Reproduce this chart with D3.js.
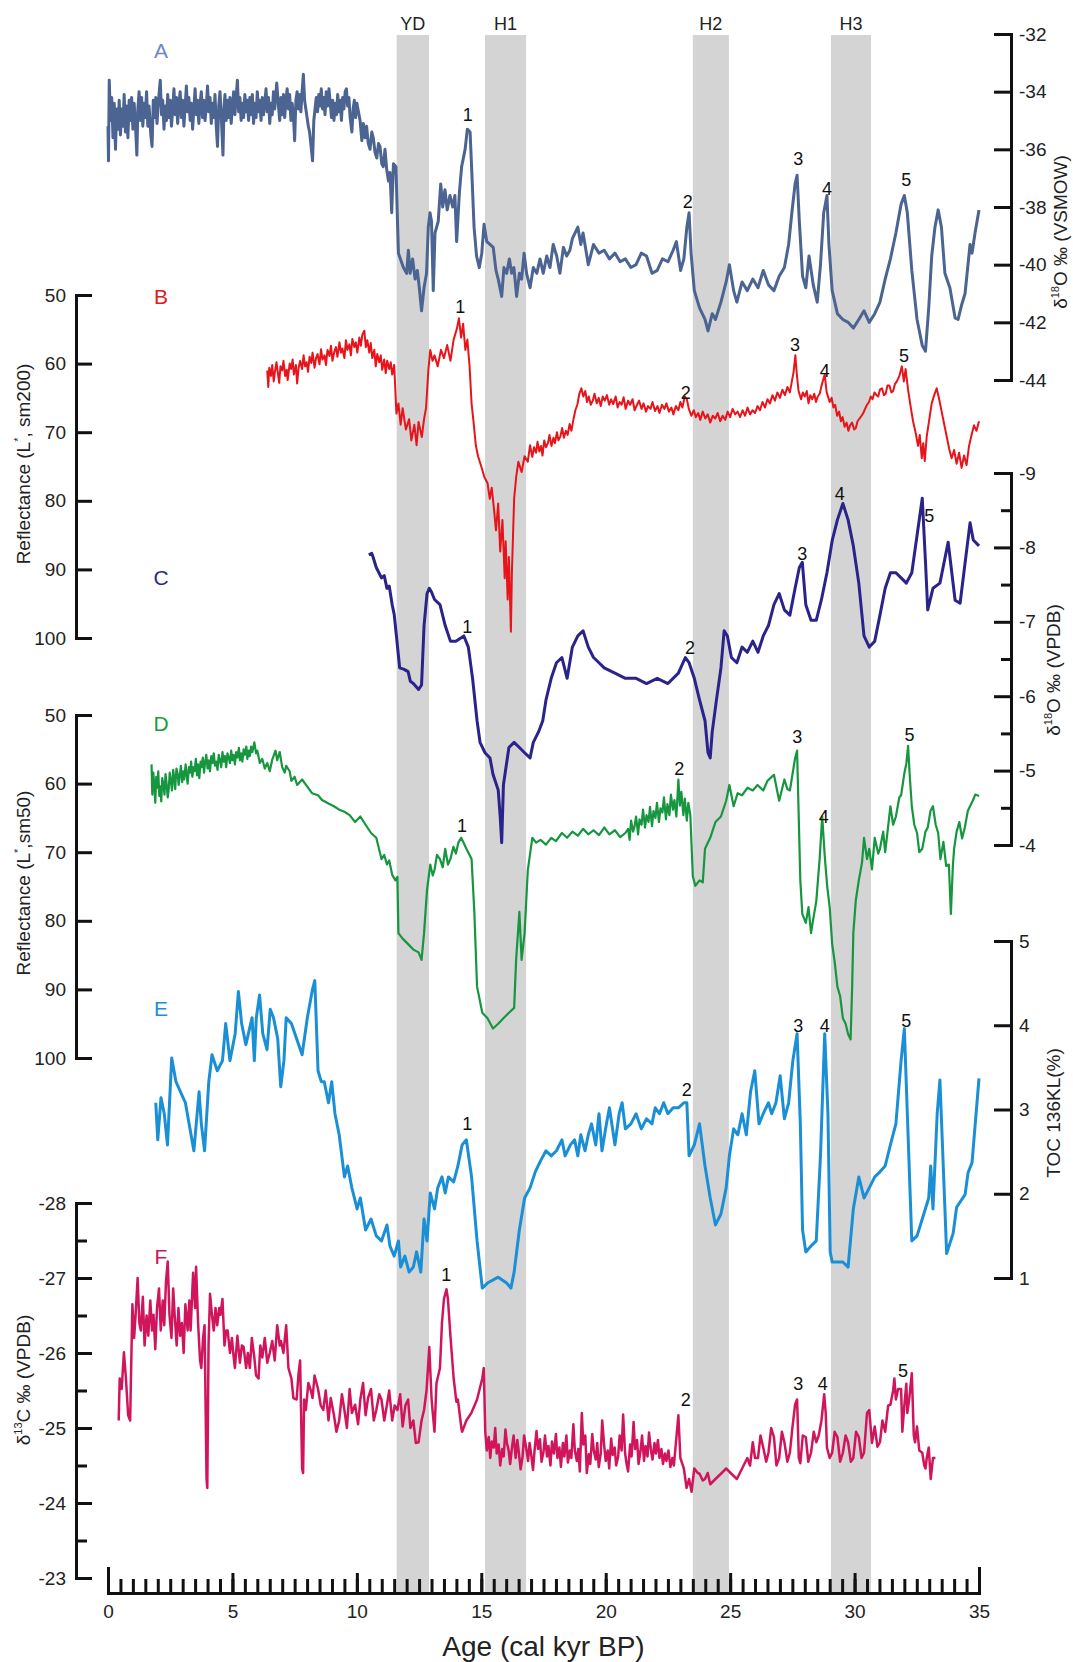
<!DOCTYPE html>
<html>
  <head>
    <meta charset='utf-8'>
    <script src='https://d3js.org/d3.v7.min.js'></script>
    <title>Stacked records</title>
  </head>
  <body>
    <style>
body {
  margin: 0;
  background: #fff;
  font-family: 'Liberation Sans', Arial, sans-serif;
}
.axis path, .axis line {
  stroke: #111;
  stroke-width: 3;
  fill: none;
}
.axis text {
  font-family: 'Liberation Sans', Arial, sans-serif;
  font-size: 19px;
  fill: #222;
}
.title {
  font-size: 19px;
  fill: #222;
}
.series {
  fill: none;
  stroke-linejoin: round;
}
    </style>
    <div id='chart'></div>
    <script>
// bands (kyr BP)
const bandNames = ['YD', 'H1', 'H2', 'H3'];
const bandStart = [11.6, 15.15, 23.5, 29.05];
const bandEnd = [12.9, 16.8, 24.95, 30.66];

const xTicks = [0, 5, 10, 15, 20, 25, 30, 35];
const ticksA = [-32, -34, -36, -38, -40, -42, -44];
const ticksB = [50, 60, 70, 80, 90, 100];
const ticksC = [-9, -8, -7, -6, -5, -4];
const minorC = [-8.5, -7.5, -6.5, -5.5, -4.5];
const ticksD = [50, 60, 70, 80, 90, 100];
const ticksE = [5, 4, 3, 2, 1];
const ticksF = [-28, -27, -26, -25, -24, -23];
const minorF = [-27.5, -26.5, -25.5, -24.5, -23.5];

// A: d18O VSMOW  [age, value]
const recA = [
[0.00,-35.2],[0.02,-36.4],[0.05,-33.6],[0.1,-35.0],[0.15,-34.2],[0.2,-35.6],[0.25,-34.4],[0.3,-36.0],[0.35,-34.6],[0.4,-35.3],[0.45,-34.3],[0.5,-35.5],[0.55,-34.6],[0.6,-35.2],[0.65,-34.1],[0.7,-35.4],[0.75,-34.5],[0.8,-35.6],[0.85,-34.3],[0.9,-35.0],[0.95,-34.2],[1.0,-35.3],[1.05,-34.4],[1.1,-35.1],[1.16,-36.2],[1.2,-34.6],[1.25,-34.0],[1.3,-35.0],[1.35,-34.2],[1.4,-35.2],[1.45,-34.4],[1.5,-34.9],[1.55,-34.0],[1.6,-35.2],[1.65,-34.5],[1.72,-35.5],[1.77,-35.9],[1.82,-34.3],[1.87,-34.9],[1.92,-34.2],[1.97,-35.1],[2.02,-34.4],[2.07,-33.9],[2.1,-33.6],[2.15,-34.8],[2.2,-34.3],[2.25,-35.3],[2.3,-34.5],[2.35,-35.0],[2.4,-34.1],[2.45,-34.9],[2.5,-34.3],[2.55,-35.2],[2.6,-34.6],[2.65,-33.9],[2.7,-34.8],[2.75,-34.2],[2.8,-35.1],[2.85,-34.4],[2.9,-34.0],[2.95,-34.9],[3.0,-34.3],[3.05,-35.2],[3.1,-34.5],[3.15,-33.8],[3.2,-34.7],[3.25,-34.2],[3.3,-35.0],[3.35,-34.4],[3.4,-35.3],[3.45,-34.6],[3.5,-33.9],[3.55,-34.8],[3.6,-34.3],[3.65,-35.1],[3.7,-34.4],[3.75,-34.0],[3.8,-34.9],[3.85,-34.3],[3.9,-35.0],[3.95,-34.5],[4.0,-33.8],[4.05,-34.7],[4.1,-34.2],[4.15,-35.1],[4.2,-34.4],[4.25,-34.9],[4.3,-34.1],[4.35,-35.2],[4.4,-35.9],[4.45,-34.5],[4.5,-34.0],[4.55,-34.8],[4.62,-36.2],[4.66,-34.6],[4.7,-34.1],[4.75,-35.0],[4.8,-34.3],[4.85,-34.9],[4.9,-34.2],[4.95,-35.1],[5.0,-34.5],[5.05,-34.0],[5.1,-34.8],[5.15,-34.2],[5.2,-33.6],[5.25,-34.7],[5.3,-34.2],[5.35,-35.0],[5.4,-34.4],[5.45,-34.9],[5.5,-34.1],[5.55,-34.7],[5.6,-34.3],[5.65,-35.0],[5.7,-34.2],[5.75,-34.8],[5.8,-34.1],[5.85,-35.1],[5.9,-34.4],[5.95,-34.9],[6.0,-34.0],[6.05,-34.7],[6.1,-34.3],[6.15,-35.0],[6.2,-34.2],[6.25,-34.8],[6.3,-34.4],[6.35,-33.9],[6.4,-34.7],[6.45,-34.2],[6.5,-35.1],[6.55,-34.4],[6.6,-34.8],[6.65,-34.0],[6.7,-34.6],[6.78,-33.7],[6.85,-34.5],[6.9,-35.0],[6.95,-34.2],[7.0,-34.8],[7.05,-34.1],[7.1,-34.9],[7.15,-34.3],[7.2,-33.9],[7.25,-34.6],[7.3,-34.1],[7.35,-35.0],[7.4,-34.4],[7.45,-34.8],[7.5,-35.7],[7.55,-34.3],[7.6,-34.0],[7.65,-34.6],[7.7,-34.1],[7.75,-34.7],[7.8,-34.0],[7.85,-33.4],[7.9,-34.3],[7.95,-34.6],[8.0,-34.9],[8.05,-35.2],[8.1,-35.4],[8.15,-35.8],[8.22,-36.4],[8.27,-35.0],[8.32,-34.6],[8.37,-34.2],[8.42,-34.7],[8.47,-34.1],[8.52,-34.5],
[8.57,-33.9],[8.62,-34.6],[8.67,-34.2],[8.72,-34.8],[8.77,-34.0],[8.82,-34.5],[8.88,-33.9],[8.93,-34.4],[8.98,-34.9],[9.03,-34.3],[9.08,-35.0],[9.13,-34.4],[9.18,-34.8],[9.23,-34.1],[9.28,-34.7],[9.33,-34.3],[9.38,-35.0],[9.43,-34.2],[9.48,-34.6],[9.53,-34.0],[9.58,-33.9],[9.63,-34.5],[9.68,-34.2],[9.73,-34.9],[9.8,-35.4],[9.85,-34.6],[9.9,-34.3],[9.95,-34.9],[10.0,-34.4],
[10.13,-35.0],[10.2,-35.7],[10.26,-35.1],[10.33,-35.6],[10.39,-35.2],[10.46,-35.8],[10.53,-36.0],[10.6,-35.4],[10.66,-35.6],[10.73,-36.1],[10.8,-36.3],[10.87,-35.8],[10.93,-35.9],[11.0,-36.5],[11.06,-36.6],[11.13,-36.0],[11.2,-36.7],[11.27,-37.1],[11.33,-36.8],[11.4,-38.2],[11.47,-36.5],[11.57,-36.6],[11.67,-39.6],
[11.87,-40.1],[12.0,-40.3],[12.07,-39.5],[12.14,-40.3],[12.24,-39.8],[12.34,-40.5],[12.43,-40.2],[12.51,-40.8],[12.6,-41.6],[12.7,-40.8],[12.8,-40.3],[12.87,-38.7],[12.94,-38.2],[13.0,-38.5],[13.07,-40.9],[13.14,-38.9],[13.27,-38.5],[13.37,-37.2],[13.45,-38.0],[13.54,-37.4],[13.63,-38.1],[13.74,-37.6],[13.85,-38.0],[13.94,-37.6],[14.01,-39.2],[14.12,-37.5],[14.21,-36.6],[14.35,-36.0],[14.44,-35.3],[14.55,-35.4],[14.61,-36.6],[14.71,-38.7],[14.81,-39.7],[14.92,-40.1],[15.02,-39.6],[15.11,-38.6],[15.22,-39.2],[15.35,-39.3],[15.48,-39.4],[15.59,-40.2],[15.68,-40.5],[15.82,-41.1],[15.91,-40.1],[16.02,-40.3],[16.13,-39.8],[16.22,-40.3],[16.31,-40.1],[16.42,-41.1],[16.53,-40.3],[16.62,-40.5],[16.72,-39.6],[16.82,-40.3],[16.96,-40.8],[17.09,-40.1],[17.23,-40.3],[17.36,-39.8],[17.49,-40.3],[17.63,-39.7],[17.76,-40.1],[17.89,-39.3],[18.03,-39.7],[18.16,-40.3],[18.3,-39.4],[18.43,-39.7],[18.56,-39.5],
[18.66,-39.1],[18.88,-38.7],[19.0,-39.3],[19.09,-38.9],[19.3,-40.0],[19.51,-39.3],[19.73,-39.6],[19.94,-39.5],[20.15,-39.8],[20.37,-39.6],[20.58,-39.9],[20.79,-39.8],[21.01,-40.1],[21.22,-40.0],[21.43,-39.6],[21.64,-39.7],[21.86,-40.3],[22.07,-40.2],[22.28,-39.8],[22.5,-39.9],[22.71,-39.5],[22.84,-39.2],[23.01,-40.2],[23.14,-39.8],[23.26,-38.7],[23.35,-38.2],[23.43,-39.6],[23.56,-40.9],[23.77,-41.5],[23.99,-41.9],[24.11,-42.3],[24.28,-41.7],[24.41,-41.9],[24.63,-41.3],[24.84,-40.6],[24.97,-40.0],[25.14,-40.9],[25.27,-41.3],[25.48,-40.6],[25.69,-40.9],[25.91,-40.5],[26.12,-40.8],[26.33,-40.2],[26.54,-40.7],[26.76,-40.9],[26.97,-40.4],[27.18,-40.1],[27.35,-39.3],[27.48,-38.2],[27.61,-37.2],[27.69,-36.9],[27.78,-38.5],[27.91,-40.4],[28.04,-40.8],[28.17,-39.7],[28.34,-40.7],[28.5,-41.3],[28.63,-40.0],[28.76,-38.2],[28.89,-37.6],[28.97,-39.3],[29.1,-40.9],[29.31,-41.7],[29.53,-41.9],[29.74,-42.0],[29.95,-42.2],[30.17,-41.9],[30.38,-41.6],[30.59,-42.0],[30.81,-41.7],[31.02,-41.3],[31.23,-40.5],[31.44,-39.8],[31.66,-38.9],[31.87,-37.9],[32.0,-37.6],[32.12,-38.2],[32.3,-40.2],[32.51,-41.9],[32.72,-42.8],[32.85,-43.0],[32.98,-41.5],[33.1,-39.7],[33.23,-38.7],[33.36,-38.1],[33.49,-38.7],[33.63,-40.3],[33.83,-40.8],[34.04,-41.85],[34.16,-41.9],[34.3,-41.4],[34.44,-41.0],[34.64,-39.3],[34.72,-39.6],[34.84,-38.9],[35.0,-38.1]
];

// B: reflectance L* sm200
const recB = [
[6.4,61.0],[6.44,63.4],[6.48,60.6],[6.55,61.8],[6.6,60.2],[6.66,62.6],[6.7,61.4],[6.77,59.8],[6.82,61.2],[6.88,62.8],[6.93,60.4],[7.0,61.0],[7.05,59.6],[7.12,61.8],[7.18,60.9],[7.22,62.4],[7.3,60.0],[7.36,60.8],[7.42,59.4],[7.47,61.6],[7.55,60.2],[7.6,62.9],[7.66,60.6],[7.72,59.6],[7.8,60.8],[7.86,58.8],[7.92,60.4],[7.98,59.8],[8.04,61.2],[8.1,59.0],[8.17,59.9],[8.22,58.4],[8.3,60.6],[8.36,59.2],[8.42,58.6],[8.5,60.1],[8.56,57.9],[8.62,59.4],[8.7,58.8],[8.76,60.2],[8.82,58.0],[8.9,58.9],[8.96,57.4],[9.02,59.6],[9.1,58.2],[9.16,57.6],[9.22,59.0],[9.3,56.9],[9.36,58.4],[9.42,57.8],[9.5,59.2],[9.56,56.6],[9.62,58.0],[9.7,57.2],[9.76,58.8],[9.82,56.4],[9.9,57.6],[9.96,56.9],[10.02,58.4],[10.1,56.2],[10.16,57.4],[10.22,55.8],[10.3,55.2],[10.36,57.6],[10.42,56.6],[10.5,58.4],[10.56,57.0],[10.62,59.2],[10.7,58.0],[10.76,60.4],[10.82,58.6],[10.9,59.8],[10.96,58.8],[11.02,60.9],[11.1,59.4],[11.16,61.4],[11.22,59.6],[11.3,60.8],[11.36,59.8],[11.42,61.6],[11.5,60.2],
[11.59,67.3],[11.67,65.8],[11.76,68.9],[11.84,66.5],[11.97,69.6],[12.1,68.1],[12.19,71.2],[12.31,68.9],[12.4,71.9],[12.48,68.5],[12.61,70.7],[12.7,68.1],[12.78,66.5],[12.87,61.1],[12.95,58.0],[13.04,59.6],[13.12,58.8],[13.25,60.4],[13.38,58.0],[13.5,59.2],[13.63,57.3],[13.76,59.6],[13.89,56.5],[14.02,54.9],[14.1,53.4],[14.19,56.2],[14.27,54.2],[14.36,58.0],[14.44,56.5],[14.53,60.4],[14.61,65.8],[14.7,68.9],[14.78,71.9],[14.87,73.5],[15.0,75.0],[15.13,76.6],[15.25,77.4],[15.34,79.7],[15.42,78.1],[15.51,81.2],[15.59,84.3],[15.68,80.4],[15.76,87.4],[15.85,82.8],[15.94,91.3],[15.98,85.9],[16.06,94.4],[16.11,88.2],[16.19,99.1],[16.23,90.5],[16.32,79.7],[16.4,76.6],[16.49,74.3],[16.62,75.8],[16.74,73.5],[16.87,74.3],[16.96,71.9],
[17.05,73.6],[17.12,72.2],[17.2,73.0],[17.26,71.4],[17.33,72.8],[17.4,72.0],[17.46,73.4],[17.53,71.2],[17.6,72.2],[17.68,71.6],[17.74,70.4],[17.82,72.0],[17.9,70.8],[17.96,71.6],[18.04,70.0],[18.1,71.2],[18.18,70.6],[18.25,69.4],[18.32,70.8],[18.4,69.8],[18.47,70.4],[18.55,68.8],[18.62,69.8],[18.7,68.2],[18.78,66.8],[18.86,66.0],[18.94,64.4],[19.02,63.6],[19.1,64.8],[19.18,64.0],
[19.25,65.6],[19.32,64.8],[19.4,66.0],[19.48,65.4],[19.55,64.4],[19.64,65.8],[19.72,65.0],[19.8,66.2],[19.88,64.8],[19.96,65.4],[20.05,64.6],[20.14,66.0],[20.22,65.2],[20.3,65.9],[20.4,64.8],[20.48,66.4],[20.56,65.6],[20.64,66.0],[20.72,64.9],[20.8,66.6],[20.9,65.4],[20.98,66.0],[21.08,65.2],[21.16,66.8],[21.26,66.0],[21.34,65.4],[21.44,66.6],[21.52,65.8],[21.62,67.0],[21.7,66.2],[21.8,66.6],[21.88,65.6],[21.98,66.9],[22.08,66.2],[22.16,67.2],[22.26,66.0],[22.36,66.6],[22.44,65.8],[22.54,67.0],[22.64,66.4],[22.72,67.4],[22.82,66.2],[22.92,66.8],[23.0,65.6],[23.08,66.4],[23.18,64.8],[23.26,65.2],[23.34,66.6],[23.44,67.6],[23.54,66.8],[23.62,67.8],[23.72,67.2],[23.8,68.2],[23.9,67.0],[24.0,68.0],[24.1,67.4],[24.2,68.6],[24.3,67.6],[24.4,68.0],[24.5,67.2],[24.6,68.4],[24.7,67.6],[24.8,68.2],[24.9,67.0],[25.0,67.8],[25.1,66.6],[25.2,67.4],[25.3,67.0],[25.4,67.8],[25.5,66.8],[25.6,67.6],[25.7,66.4],[25.8,67.4],[25.9,66.8],[26.0,67.2],[26.1,66.2],[26.2,66.8],[26.3,65.6],[26.4,66.4],[26.5,65.2],[26.6,65.8],[26.7,64.6],[26.8,65.4],[26.9,64.2],[27.0,65.0],[27.1,63.8],[27.2,64.6],[27.3,63.4],[27.4,64.2],[27.48,62.6],[27.55,61.2],[27.62,58.8],[27.68,61.6],[27.75,64.0],[27.85,65.2],[27.92,64.2],[28.0,64.8],[28.08,64.0],[28.15,65.8],[28.22,64.6],[28.3,65.2],[28.38,64.4],[28.45,65.6],[28.52,64.8],[28.6,64.4],[28.66,63.4],[28.72,62.6],[28.8,61.6],[28.88,64.2],[28.95,65.0],[29.0,65.6],[29.08,65.0],[29.15,66.4],[29.22,66.0],[29.3,67.6],[29.38,67.0],[29.45,68.4],[29.52,67.8],[29.6,69.2],[29.68,68.6],[29.75,69.8],[29.82,69.0],[29.9,68.6],[29.98,69.6],[30.05,69.4],[30.12,68.4],[30.2,68.0],[30.28,67.6],[30.35,67.2],[30.42,66.6],[30.5,66.0],[30.58,65.6],[30.65,64.8],[30.72,65.2],[30.8,64.2],[30.88,64.6],[30.95,64.8],[31.02,63.8],[31.1,63.6],[31.18,64.6],[31.25,64.4],[31.32,63.2],[31.4,63.2],[31.48,64.2],[31.55,64.0],[31.62,63.0],[31.7,62.6],[31.8,61.8],[31.9,60.4],[31.98,62.6],[32.05,60.8],[32.15,63.8],[32.25,66.2],[32.35,68.4],[32.45,70.0],[32.55,72.0],[32.62,70.4],[32.7,73.8],[32.76,71.6],[32.82,74.2],[32.9,70.6],[33.0,68.2],[33.1,65.8],[33.2,64.6],[33.3,63.6],[33.4,65.2],[33.5,67.0],[33.6,68.8],[33.7,70.6],[33.8,72.4],[33.9,73.8],[34.0,72.6],[34.1,74.6],[34.2,73.0],[34.3,75.2],[34.4,73.4],[34.5,74.8],[34.6,72.0],[34.7,70.4],[34.8,69.0],[34.9,69.8],[35.0,68.4]
];

// C: d18O VPDB
const recC = [
[10.48,-7.90],[10.6,-7.92],[10.66,-7.86],[10.78,-7.73],[10.99,-7.59],[11.1,-7.62],[11.21,-7.45],[11.3,-7.48],[11.42,-7.23],[11.5,-7.1],[11.59,-6.81],[11.72,-6.38],[11.9,-6.36],[12.06,-6.33],[12.15,-6.2],[12.27,-6.17],[12.48,-6.09],[12.6,-6.15],[12.7,-6.95],[12.82,-7.38],[12.91,-7.45],[13.0,-7.4],[13.12,-7.3],[13.34,-7.23],[13.55,-6.95],[13.76,-6.74],[13.98,-6.74],[14.3,-6.81],[14.48,-6.66],[14.65,-6.24],[14.83,-5.67],[14.95,-5.38],[15.15,-5.24],[15.35,-5.17],[15.47,-4.95],[15.68,-4.74],[15.76,-4.38],[15.82,-4.03],[15.89,-4.81],[16.11,-5.31],[16.32,-5.38],[16.53,-5.31],[16.74,-5.24],[16.96,-5.17],[17.09,-5.38],[17.3,-5.52],[17.47,-5.67],[17.6,-5.95],[17.81,-6.24],[18.02,-6.45],[18.24,-6.52],[18.45,-6.24],[18.66,-6.66],[18.88,-6.81],[19.09,-6.88],[19.3,-6.66],[19.51,-6.52],[19.73,-6.45],[19.94,-6.38],[20.37,-6.31],[20.79,-6.24],[21.22,-6.24],[21.64,-6.17],[22.07,-6.24],[22.5,-6.17],[22.92,-6.31],[23.2,-6.52],[23.35,-6.45],[23.56,-6.24],[23.77,-5.95],[23.99,-5.67],[24.11,-5.24],[24.2,-5.17],[24.28,-5.52],[24.45,-5.95],[24.63,-6.38],[24.76,-6.88],[24.89,-6.81],[25.05,-6.52],[25.27,-6.45],[25.48,-6.66],[25.69,-6.59],[25.91,-6.74],[26.12,-6.59],[26.33,-6.81],[26.54,-6.95],[26.76,-7.23],[26.97,-7.38],[27.18,-7.16],[27.4,-7.09],[27.61,-7.45],[27.78,-7.73],[27.9,-7.80],[28.04,-7.23],[28.25,-7.02],[28.46,-7.02],[28.67,-7.30],[28.89,-7.66],[29.1,-8.09],[29.31,-8.37],[29.53,-8.59],[29.74,-8.37],[29.95,-8.02],[30.17,-7.52],[30.38,-6.81],[30.59,-6.66],[30.81,-6.74],[31.02,-7.09],[31.23,-7.45],[31.44,-7.66],[31.66,-7.66],[31.87,-7.59],[32.08,-7.52],[32.3,-7.66],[32.51,-8.16],[32.72,-8.66],[32.85,-7.80],[32.94,-7.16],[33.15,-7.45],[33.43,-7.52],[33.76,-8.07],[34.04,-7.29],[34.24,-7.25],[34.64,-8.33],[34.77,-8.1],[35.0,-8.02]
];

// D: reflectance L* sm50
const recD = [
[1.75,57.2],[1.78,61.6],[1.82,58.4],[1.86,60.2],[1.9,62.8],[1.94,59.0],[1.98,60.6],[2.02,58.2],[2.06,61.8],[2.1,60.4],[2.14,62.6],[2.18,59.2],[2.22,60.0],[2.27,61.6],[2.31,58.6],[2.35,59.8],[2.4,62.0],[2.44,60.8],[2.48,58.4],[2.53,59.6],[2.57,61.0],[2.62,58.0],[2.66,59.2],[2.7,60.8],[2.75,57.8],[2.8,58.6],[2.84,60.2],[2.88,59.0],[2.93,57.4],[2.98,59.8],[3.02,58.2],[3.06,59.4],[3.12,57.2],[3.16,58.8],[3.2,60.0],[3.25,57.6],[3.3,58.4],[3.34,56.8],[3.39,59.0],[3.44,57.6],[3.48,58.2],[3.53,56.4],[3.58,58.8],[3.62,57.2],[3.67,59.2],[3.72,56.8],[3.76,57.6],[3.81,56.2],[3.86,58.4],[3.9,57.0],[3.95,55.8],[4.0,57.8],[4.05,56.6],[4.1,58.2],[4.15,56.0],[4.2,57.0],[4.25,55.6],[4.3,57.4],[4.35,56.8],[4.4,58.0],[4.45,55.8],[4.5,56.6],[4.55,57.6],[4.6,55.4],[4.65,56.8],[4.7,56.0],[4.75,57.6],[4.8,55.6],[4.85,56.2],[4.9,57.0],[4.95,55.2],[5.0,56.6],[5.05,55.8],[5.1,57.2],[5.15,55.4],[5.2,56.2],[5.26,54.8],[5.3,56.6],[5.35,55.6],[5.4,56.8],[5.45,55.0],[5.5,55.8],[5.56,54.6],[5.6,56.4],[5.65,55.2],[5.7,56.0],[5.75,54.6],[5.8,55.4],[5.88,54.0],[5.95,55.6],[6.0,55.2],[6.1,57.0],[6.2,56.4],[6.3,57.8],[6.4,57.0],[6.5,58.2],[6.6,56.5],[6.73,55.2],[6.8,56.6],[6.9,55.4],[7.0,57.6],[7.1,58.4],[7.16,57.4],[7.3,58.2],[7.37,59.6],[7.5,59.0],[7.6,60.2],[7.8,59.4],[8.0,60.4],[8.2,61.4],[8.44,61.7],[8.6,62.4],[8.86,62.9],[9.08,63.3],[9.29,63.8],[9.5,64.1],[9.71,64.6],[9.93,65.6],[10.14,64.8],[10.35,66.0],[10.57,67.2],[10.78,67.9],[10.99,71.0],[11.1,70.4],[11.21,71.8],[11.3,71.2],[11.42,73.3],[11.55,74.1],[11.63,73.6],[11.67,81.8],[11.84,82.6],[12.06,83.4],[12.27,84.2],[12.48,84.6],[12.6,85.7],[12.7,81.8],[12.82,75.5],[12.95,71.8],[13.05,73.4],[13.12,72.6],[13.22,70.4],[13.34,71.0],[13.45,72.2],[13.55,69.5],[13.66,71.8],[13.76,71.0],[13.88,69.2],[13.98,70.2],[14.08,68.6],[14.19,67.9],[14.3,68.7],[14.4,69.5],[14.5,70.2],[14.61,71.0],[14.72,78.7],[14.83,89.6],[15.04,93.4],[15.25,94.2],[15.47,95.7],[15.68,95.0],[15.89,94.2],[16.11,93.4],[16.32,92.7],[16.4,85.7],[16.53,78.7],[16.62,85.7],[16.74,81.8],[16.87,72.6],
[17.05,67.9],[17.2,68.6],[17.38,68.2],[17.6,68.9],[17.81,67.9],[18.0,68.4],[18.24,67.2],[18.45,67.9],[18.66,67.0],[18.88,67.6],[19.09,66.6],[19.3,67.4],[19.51,66.8],[19.73,67.5],[19.94,66.4],[20.15,67.4],[20.37,66.8],[20.58,67.8],[20.79,67.2],
[20.9,66.6],[20.96,68.2],[21.02,65.4],[21.1,67.0],[21.16,66.2],[21.22,64.8],[21.3,67.4],[21.36,65.2],[21.44,66.0],[21.5,63.8],[21.58,66.4],[21.64,64.6],[21.72,65.6],[21.78,63.4],[21.86,66.2],[21.92,64.0],[22.0,65.0],[22.06,62.8],[22.14,65.6],[22.2,63.6],[22.28,64.2],[22.34,62.0],[22.42,65.2],[22.48,63.0],[22.56,64.6],[22.62,61.6],[22.7,63.8],[22.76,62.4],[22.84,64.8],[22.92,59.4],[22.98,63.2],[23.04,61.2],[23.12,64.6],[23.18,62.2],[23.26,65.4],[23.32,62.8],[23.4,64.6],[23.5,73.5],[23.6,74.9],[23.77,74.1],[23.9,74.4],[23.99,69.5],[24.2,67.9],[24.41,65.6],[24.63,64.8],[24.84,62.5],[24.97,60.2],[25.14,63.3],[25.3,61.4],[25.48,61.7],[25.7,60.6],[25.91,61.0],[26.1,60.2],[26.33,61.0],[26.5,59.6],[26.76,58.7],[26.97,62.5],[27.18,59.4],[27.3,60.8],[27.4,61.0],[27.61,56.3],[27.69,55.2],[27.75,64.0],[27.82,74.1],[27.9,79.0],[28.04,80.3],[28.15,78.0],[28.25,81.8],[28.35,79.5],[28.46,77.2],[28.6,70.8],[28.7,64.8],[28.8,70.5],[28.9,75.0],[29.0,78.0],[29.1,83.4],[29.2,86.0],[29.31,89.6],[29.42,91.0],[29.53,94.2],[29.64,95.0],[29.74,96.5],[29.84,97.3],[29.9,90.0],[29.95,81.8],[30.05,77.0],[30.17,74.1],[30.3,71.5],[30.38,67.9],[30.5,71.0],[30.59,69.5],[30.7,72.5],[30.81,67.9],[30.95,70.2],[31.02,69.5],[31.15,67.0],[31.23,70.0],[31.35,66.2],[31.44,63.3],[31.55,66.0],[31.66,64.8],[31.8,62.0],[31.87,61.7],[32.0,58.5],[32.08,57.1],[32.15,54.5],[32.22,59.0],[32.3,63.3],[32.4,66.0],[32.51,67.2],[32.6,70.0],[32.72,69.5],[32.85,67.0],[32.94,66.4],[33.05,64.0],[33.15,63.3],[33.26,66.0],[33.36,67.2],[33.45,71.0],[33.57,68.5],[33.68,72.0],[33.79,71.8],[33.87,79.0],[33.95,72.0],[34.0,69.5],[34.1,67.0],[34.21,65.6],[34.32,68.0],[34.43,66.4],[34.55,64.0],[34.64,63.3],[34.75,62.5],[34.85,61.6],[35.0,61.8]
];

// E: TOC %
const recE = [
[1.92,3.08],[2.0,2.64],[2.13,3.14],[2.26,2.95],[2.39,2.58],[2.56,3.61],[2.73,3.33],[3.11,3.08],[3.45,2.51],[3.66,3.21],[3.75,2.83],[3.88,2.51],[4.05,3.33],[4.18,3.65],[4.39,3.46],[4.6,3.58],[4.73,4.02],[4.9,3.58],[5.11,3.90],[5.24,4.40],[5.37,4.02],[5.54,3.77],[5.79,4.09],[5.88,3.58],[5.96,4.09],[6.09,4.36],[6.22,3.90],[6.39,3.71],[6.52,4.19],[6.65,4.09],[6.82,3.84],[6.94,3.27],[7.07,3.58],[7.16,4.09],[7.37,4.02],[7.58,3.84],[7.80,3.65],[8.01,4.09],[8.22,4.43],[8.31,4.53],[8.44,3.46],[8.57,3.33],[8.69,3.33],[8.86,3.08],[8.99,3.33],[9.12,2.95],[9.29,2.70],[9.50,2.20],[9.63,2.33],[9.80,2.07],[10.01,1.82],[10.14,1.95],[10.35,1.57],[10.57,1.70],[10.78,1.50],[10.99,1.44],[11.21,1.63],[11.33,1.38],[11.50,1.26],[11.67,1.44],[11.76,1.13],[11.93,1.26],[12.1,1.07],[12.27,1.13],[12.40,1.31],[12.57,1.07],[12.70,1.70],[12.82,1.44],[12.95,2.01],[13.12,1.82],[13.25,2.07],[13.42,2.20],[13.55,2.01],[13.68,2.20],[13.89,2.14],[14.06,2.33],[14.23,2.58],[14.4,2.64],[14.61,2.20],[14.83,1.44],[15.04,0.88],[15.25,0.94],[15.68,1.01],[16.02,0.94],[16.19,0.88],[16.32,1.07],[16.53,1.57],[16.74,1.95],[16.96,2.07],[17.17,2.26],[17.38,2.39],[17.60,2.51],[17.81,2.45],[18.02,2.51],[18.24,2.64],[18.37,2.45],[18.58,2.58],[18.75,2.64],[18.88,2.45],[19.0,2.70],[19.17,2.51],[19.30,2.70],[19.43,2.83],[19.6,2.58],[19.73,2.95],[19.85,2.51],[20.03,2.83],[20.15,3.02],[20.37,2.58],[20.54,2.95],[20.66,3.08],[20.79,2.77],[21.01,2.83],[21.22,2.95],[21.43,2.77],[21.64,2.89],[21.86,2.83],[21.99,3.02],[22.16,2.95],[22.33,3.08],[22.50,2.95],[22.71,3.02],[22.92,3.02],[23.14,3.08],[23.26,3.08],[23.35,2.45],[23.56,2.58],[23.77,2.83],[23.99,2.33],[24.2,1.95],[24.41,1.63],[24.63,1.76],[24.84,2.07],[24.97,2.45],[25.14,2.77],[25.31,2.70],[25.48,2.95],[25.65,2.70],[25.82,3.21],[25.99,3.46],[26.16,2.83],[26.33,2.95],[26.54,3.08],[26.67,2.95],[26.84,3.08],[27.01,3.40],[27.18,2.89],[27.35,3.08],[27.52,3.58],[27.69,3.90],[27.82,2.83],[27.91,1.57],[28.04,1.31],[28.25,1.38],[28.46,1.44],[28.63,2.45],[28.80,3.90],[28.93,2.95],[29.02,1.31],[29.10,1.19],[29.53,1.19],[29.74,1.13],[29.95,1.82],[30.17,2.20],[30.38,1.95],[30.59,2.07],[30.81,2.20],[31.02,2.26],[31.23,2.33],[31.44,2.58],[31.66,2.83],[31.87,3.58],[32.0,3.96],[32.12,2.95],[32.30,1.44],[32.51,1.50],[32.72,1.70],[32.98,1.95],[33.06,2.33],[33.15,1.82],[33.32,2.95],[33.43,3.35],[33.7,1.29],[33.96,1.53],[34.1,1.84],[34.44,1.99],[34.56,2.25],[34.72,2.37],[35.0,3.37]
];

// F: d13C VPDB
const recF = [
[0.43,-25.10],[0.47,-25.66],[0.55,-25.52],[0.64,-26.01],[0.72,-25.66],[0.81,-25.17],[0.89,-25.10],[0.98,-26.65],[1.05,-26.2],[1.11,-26.51],[1.19,-27.00],[1.26,-26.4],[1.32,-26.30],[1.4,-26.75],[1.47,-26.1],[1.55,-26.5],[1.62,-26.23],[1.7,-26.7],[1.77,-26.3],[1.83,-26.51],[1.9,-26.05],[1.97,-26.6],[2.05,-26.86],[2.12,-26.3],[2.2,-26.7],[2.26,-26.37],[2.33,-26.95],[2.4,-27.22],[2.47,-26.51],[2.55,-26.2],[2.62,-26.86],[2.68,-26.5],[2.76,-26.1],[2.83,-26.6],[2.9,-26.23],[2.97,-26.4],[3.04,-26.0],[3.11,-26.65],[3.2,-26.3],[3.27,-26.7],[3.32,-26.30],[3.42,-27.07],[3.5,-26.6],[3.54,-27.15],[3.62,-26.4],[3.7,-25.9],[3.75,-25.80],[3.82,-26.2],[3.88,-26.37],[3.96,-24.32],[3.99,-24.2],[4.04,-26.1],[4.1,-26.79],[4.18,-26.5],[4.25,-26.3],[4.32,-26.6],[4.39,-26.37],[4.47,-26.6],[4.52,-26.51],[4.6,-26.72],[4.68,-26.1],[4.75,-26.3],[4.81,-26.30],[4.9,-26.0],[4.98,-26.2],[5.03,-26.01],[5.1,-25.8],[5.2,-26.23],[5.3,-25.87],[5.38,-26.1],[5.45,-26.08],[5.55,-25.8],[5.62,-26.0],[5.7,-25.80],[5.78,-26.2],[5.88,-25.94],[5.95,-25.7],[6.05,-25.66],[6.12,-26.1],[6.2,-25.94],[6.3,-26.2],[6.4,-25.87],[6.5,-26.0],[6.6,-26.16],[6.7,-25.9],[6.8,-26.37],[6.9,-26.1],[6.95,-26.16],[7.05,-26.0],[7.16,-26.37],[7.25,-25.8],[7.37,-25.66],[7.45,-25.4],[7.58,-25.38],[7.65,-25.7],[7.72,-25.9],[7.8,-24.46],[7.84,-24.4],[7.88,-25.38],[7.95,-25.24],[8.05,-25.6],[8.15,-25.5],[8.22,-25.4],[8.3,-25.7],[8.44,-25.52],[8.55,-25.3],[8.65,-25.24],[8.75,-25.5],[8.86,-25.10],[8.95,-25.4],[9.08,-25.17],[9.18,-24.95],[9.29,-25.10],[9.4,-25.45],[9.5,-25.24],[9.6,-25.0],[9.71,-25.52],[9.8,-25.2],[9.93,-25.31],[10.05,-25.05],[10.14,-25.38],[10.25,-25.6],[10.35,-25.17],[10.45,-25.4],[10.57,-25.52],[10.68,-25.1],[10.78,-25.24],[10.9,-25.45],[10.99,-25.38],[11.1,-25.1],[11.21,-25.31],[11.3,-25.5],[11.42,-25.10],[11.52,-25.3],[11.63,-25.24],[11.74,-25.45],[11.84,-25.02],[11.95,-25.3],[12.06,-25.38],[12.15,-25.0],[12.27,-25.10],[12.37,-24.8],[12.48,-24.81],[12.6,-25.1],[12.7,-25.24],[12.8,-25.5],[12.91,-26.08],[13.0,-25.4],[13.04,-25.24],[13.12,-24.95],[13.2,-25.6],[13.34,-25.80],[13.42,-26.4],[13.5,-26.72],[13.6,-26.85],[13.66,-26.72],[13.76,-26.23],[13.89,-25.66],[14.0,-25.35],[14.06,-25.38],[14.2,-25.0],[14.23,-24.95],[14.4,-25.10],[14.6,-25.2],[14.83,-25.38],[15.04,-25.66],[15.1,-25.8],
[15.16,-24.95],[15.22,-24.7],[15.3,-24.88],[15.36,-24.6],[15.42,-24.82],[15.5,-24.74],[15.56,-25.0],[15.62,-24.66],[15.7,-24.78],[15.76,-24.5],[15.84,-24.72],[15.9,-24.62],[15.97,-24.98],[16.03,-24.8],[16.1,-24.7],[16.16,-24.52],[16.24,-24.76],[16.3,-24.9],[16.38,-24.6],[16.45,-24.84],[16.5,-24.7],[16.58,-24.45],[16.66,-24.62],[16.72,-24.9],[16.8,-24.74],[16.88,-24.56],[16.94,-24.8],[17.0,-24.66],[17.08,-24.44],[17.14,-24.7],[17.22,-24.96],[17.28,-24.72],[17.36,-24.85],[17.42,-24.55],[17.5,-24.68],[17.56,-24.9],[17.64,-24.62],[17.7,-24.76],[17.78,-24.5],[17.84,-24.82],[17.92,-24.66],[18.0,-24.92],[18.06,-24.6],[18.14,-24.74],[18.2,-24.48],[18.28,-24.8],[18.34,-24.62],[18.42,-24.9],[18.48,-24.54],[18.56,-24.7],[18.62,-24.6],[18.7,-25.05],[18.76,-24.7],[18.84,-24.56],[18.9,-24.72],[18.96,-24.42],[19.04,-25.2],[19.1,-24.78],[19.18,-24.9],[19.24,-24.4],[19.32,-24.65],[19.38,-24.52],[19.46,-24.92],[19.52,-24.7],[19.6,-24.58],[19.66,-24.8],[19.72,-24.48],[19.8,-24.66],[19.86,-25.1],[19.94,-24.76],[20.0,-24.56],[20.08,-24.7],[20.14,-24.46],[20.22,-24.86],[20.28,-24.64],[20.36,-24.74],[20.42,-24.5],[20.5,-24.62],[20.56,-24.9],[20.64,-24.7],[20.7,-25.18],[20.78,-24.66],[20.84,-24.52],[20.9,-24.42],[20.98,-24.78],[21.04,-24.62],[21.12,-25.08],[21.18,-24.72],[21.26,-24.84],[21.32,-24.52],[21.4,-24.7],[21.46,-24.9],[21.54,-24.56],[21.6,-24.76],[21.68,-24.62],[21.74,-24.94],[21.82,-24.7],[21.88,-24.58],[21.96,-24.8],[22.02,-24.66],[22.1,-24.84],[22.16,-24.6],[22.24,-24.72],[22.3,-24.52],[22.38,-24.66],[22.44,-24.56],[22.52,-24.7],[22.6,-24.48],[22.68,-24.6],[22.74,-24.5],[22.82,-24.8],[22.92,-25.17],[23.0,-24.6],[23.14,-24.46],[23.25,-24.2],[23.35,-24.32],[23.45,-24.15],[23.56,-24.46],[23.7,-24.4],[23.77,-24.39],[23.9,-24.3],[23.99,-24.32],[24.1,-24.4],[24.2,-24.25],[24.41,-24.32],[24.63,-24.39],[24.84,-24.46],[25.05,-24.39],[25.27,-24.32],[25.48,-24.46],[25.69,-24.60],[25.8,-24.5],[25.91,-24.81],[26.0,-24.6],[26.12,-24.60],[26.22,-24.9],[26.33,-24.74],[26.45,-24.55],[26.54,-24.67],[26.65,-25.0],[26.76,-24.88],[26.86,-24.5],[26.97,-24.60],[27.08,-24.95],[27.18,-24.81],[27.3,-24.55],[27.40,-24.67],[27.5,-25.0],[27.61,-25.31],[27.69,-25.38],[27.76,-24.6],[27.82,-24.53],[27.92,-24.9],[28.04,-24.88],[28.14,-24.55],[28.25,-24.67],[28.36,-24.95],[28.46,-24.81],[28.56,-24.9],[28.67,-25.10],[28.78,-25.45],[28.84,-25.2],[28.89,-24.74],[29.0,-24.6],[29.10,-24.67],[29.2,-24.95],[29.31,-24.88],[29.42,-24.55],[29.53,-24.67],[29.64,-24.9],[29.74,-24.81],[29.85,-24.55],[29.95,-24.60],[30.06,-24.95],[30.17,-24.88],[30.28,-24.6],[30.38,-24.67],[30.5,-25.2],[30.59,-25.24],[30.7,-24.8],[30.81,-25.02],[30.92,-24.75],[31.02,-24.81],[31.12,-25.1],[31.23,-24.95],[31.35,-25.3],[31.44,-25.31],[31.55,-25.5],[31.6,-25.66],[31.66,-25.38],[31.75,-25.52],[31.87,-25.52],[31.92,-24.95],[32.0,-25.3],[32.08,-25.59],[32.12,-25.2],[32.2,-25.4],[32.3,-25.73],[32.38,-24.9],[32.43,-24.81],[32.51,-25.02],[32.6,-24.7],[32.72,-24.67],[32.8,-24.5],[32.85,-24.46],[32.9,-24.6],[32.98,-24.74],[33.06,-24.32],[33.15,-24.60],[33.25,-24.60]
];

// numbered events 1..5, [age, value]
const labA = [[14.46,-34.8],[23.3,-37.8],[27.74,-36.34],[28.89,-37.37],[32.08,-37.07]];
const labB = [[14.15,51.7],[23.22,64.2],[27.61,57.3],[28.8,61.1],[31.99,58.8]];
const labC = [[14.44,-6.93],[23.39,-6.65],[27.9,-7.92],[29.4,-8.72],[33.0,-8.42]];
const labD = [[14.23,66.1],[22.96,57.9],[27.7,53.1],[28.76,64.8],[32.21,52.9]];
const labE = [[14.44,2.83],[23.26,3.23],[27.74,4.0],[28.8,4.0],[32.08,4.05]];
const labF = [[13.59,-27.05],[23.22,-25.38],[27.74,-25.59],[28.72,-25.59],[31.95,-25.76]];

const W = 1073, H = 1662;
const svg = d3.select('#chart').append('svg')
    .attr('width', W)
    .attr('height', H)
    .style('display', 'block')
    .style('background', '#fff');

const x = d3.scaleLinear().domain([0, 35]).range([108, 979]);
const yA = d3.scaleLinear().domain([-32, -44]).range([34, 380]);
const yB = d3.scaleLinear().domain([50, 100]).range([295, 638]);
const yC = d3.scaleLinear().domain([-9, -4]).range([473, 845]);
const yD = d3.scaleLinear().domain([50, 100]).range([715, 1058]);
const yE = d3.scaleLinear().domain([5, 1]).range([941, 1278]);
const yF = d3.scaleLinear().domain([-28, -23]).range([1203, 1578]);
const axisY = 1593;

// shaded intervals
var bands = svg.append('g');
bandNames.forEach(function(name, i) {
    bands.append('rect')
        .attr('x', x(bandStart[i]))
        .attr('y', 35)
        .attr('width', x(bandEnd[i]) - x(bandStart[i]))
        .attr('height', axisY - 35)
        .attr('fill', '#d4d4d4');
    bands.append('text')
        .attr('x', (x(bandStart[i]) + x(bandEnd[i])) / 2)
        .attr('y', 30)
        .attr('text-anchor', 'middle')
        .attr('font-size', 18)
        .attr('fill', '#222')
        .text(name);
});

const panels = [
    {key: 'A', data: recA, y: yA, color: '#4b6492', width: 3, labs: labA, letterColor: '#6f87c8', letterY: 50},
    {key: 'B', data: recB, y: yB, color: '#e8141b', width: 2, labs: labB, letterColor: '#e3191c', letterY: 296},
    {key: 'C', data: recC, y: yC, color: '#29238a', width: 3, labs: labC, letterColor: '#2a2a86', letterY: 577},
    {key: 'D', data: recD, y: yD, color: '#16963f', width: 2.2, labs: labD, letterColor: '#1a9a44', letterY: 723},
    {key: 'E', data: recE, y: yE, color: '#1b8fd5', width: 3, labs: labE, letterColor: '#1b8fd5', letterY: 1008},
    {key: 'F', data: recF, y: yF, color: '#d0155c', width: 2.5, labs: labF, letterColor: '#d0155c', letterY: 1256}
];

panels.forEach(function(p) {
    var line = d3.line()
        .x(function(d) { return x(d[0]); })
        .y(function(d) { return p.y(d[1]); });
    svg.append('path')
        .datum(p.data)
        .attr('class', 'series')
        .attr('d', line)
        .attr('stroke', p.color)
        .attr('stroke-width', p.width);

    svg.append('g').selectAll('text')
        .data(p.labs)
        .join('text')
        .attr('x', function(d) { return x(d[0]); })
        .attr('y', function(d) { return p.y(d[1]); })
        .attr('dy', '0.35em')
        .attr('text-anchor', 'middle')
        .attr('font-size', 18)
        .attr('fill', '#111')
        .text(function(d, i) { return i + 1; });

    svg.append('text')
        .attr('x', 161)
        .attr('y', p.letterY)
        .attr('dy', '0.36em')
        .attr('text-anchor', 'middle')
        .attr('font-size', 21)
        .attr('fill', p.letterColor)
        .text(p.key);
});

function fmt(d) { return String(d); }

function leftAxis(scale, ticks, minor) {
    var g = svg.append('g')
        .attr('class', 'axis')
        .attr('transform', 'translate(76,0)')
        .call(d3.axisLeft(scale).tickValues(ticks).tickSizeInner(-16).tickSizeOuter(-16)
            .tickPadding(10).tickFormat(fmt));
    if (minor) {
        svg.append('g')
            .attr('class', 'axis')
            .attr('transform', 'translate(76,0)')
            .call(d3.axisLeft(scale).tickValues(minor).tickSize(-11).tickFormat(''))
            .select('.domain').remove();
    }
    return g;
}

function rightAxis(scale, ticks, minor) {
    var g = svg.append('g')
        .attr('class', 'axis')
        .attr('transform', 'translate(1011,0)')
        .call(d3.axisRight(scale).tickValues(ticks).tickSizeInner(-17).tickSizeOuter(-17)
            .tickPadding(8).tickFormat(fmt));
    if (minor) {
        svg.append('g')
            .attr('class', 'axis')
            .attr('transform', 'translate(1011,0)')
            .call(d3.axisRight(scale).tickValues(minor).tickSize(-10).tickFormat(''))
            .select('.domain').remove();
    }
    return g;
}

rightAxis(yA, ticksA);
leftAxis(yB, ticksB);
rightAxis(yC, ticksC, minorC);
leftAxis(yD, ticksD);
rightAxis(yE, ticksE);
leftAxis(yF, ticksF, minorF);

// age axis
svg.append('g')
    .attr('class', 'axis')
    .attr('transform', 'translate(0,' + axisY + ')')
    .call(d3.axisBottom(x).tickValues(d3.range(0, 35.01, 0.5)).tickSize(-14).tickFormat(''))
    .select('.domain').attr('stroke-width', 4);

var xg = svg.append('g')
    .attr('class', 'axis')
    .attr('transform', 'translate(0,' + axisY + ')')
    .call(d3.axisBottom(x).tickValues(xTicks).tickSizeInner(-20).tickSizeOuter(0)
        .tickPadding(12).tickFormat(fmt));
xg.select('.domain').remove();
xg.selectAll('.tick line')
    .attr('y2', function(d) { return (d === 0 || d === 35) ? -26 : -20; });

svg.append('text')
    .attr('x', (x(0) + x(35)) / 2)
    .attr('y', 1656)
    .attr('text-anchor', 'middle')
    .attr('font-size', 28)
    .attr('fill', '#222')
    .text('Age (cal kyr BP)');

// axis titles, parts: [text, superscript?]
const titles = [
    {cx: 1060, cy: 232, parts: [['δ', 0], ['18', 1], ['O ‰ (VSMOW)', 0]]},
    {cx: 23, cy: 464, parts: [['Reflectance (L', 0], ['*', 1], [', sm200)', 0]]},
    {cx: 1053, cy: 670, parts: [['δ', 0], ['18', 1], ['O ‰ (VPDB)', 0]]},
    {cx: 23, cy: 883, parts: [['Reflectance (L', 0], ['*', 1], [',sm50)', 0]]},
    {cx: 1053, cy: 1113, parts: [['TOC 136KL(%)', 0]]},
    {cx: 23, cy: 1380, parts: [['δ', 0], ['13', 1], ['C ‰ (VPDB)', 0]]}
];

titles.forEach(function(t) {
    var txt = svg.append('text')
        .attr('class', 'title')
        .attr('text-anchor', 'middle')
        .attr('transform', 'translate(' + t.cx + ',' + t.cy + ') rotate(-90)')
        .attr('dy', '0.35em');
    var shifted = false;
    t.parts.forEach(function(part) {
        var ts = txt.append('tspan').text(part[0]);
        if (part[1]) {
            ts.attr('font-size', 11).attr('dy', -8);
            shifted = true;
        } else if (shifted) {
            ts.attr('dy', 8);
            shifted = false;
        }
    });
});
    </script>
  </body>
</html>
